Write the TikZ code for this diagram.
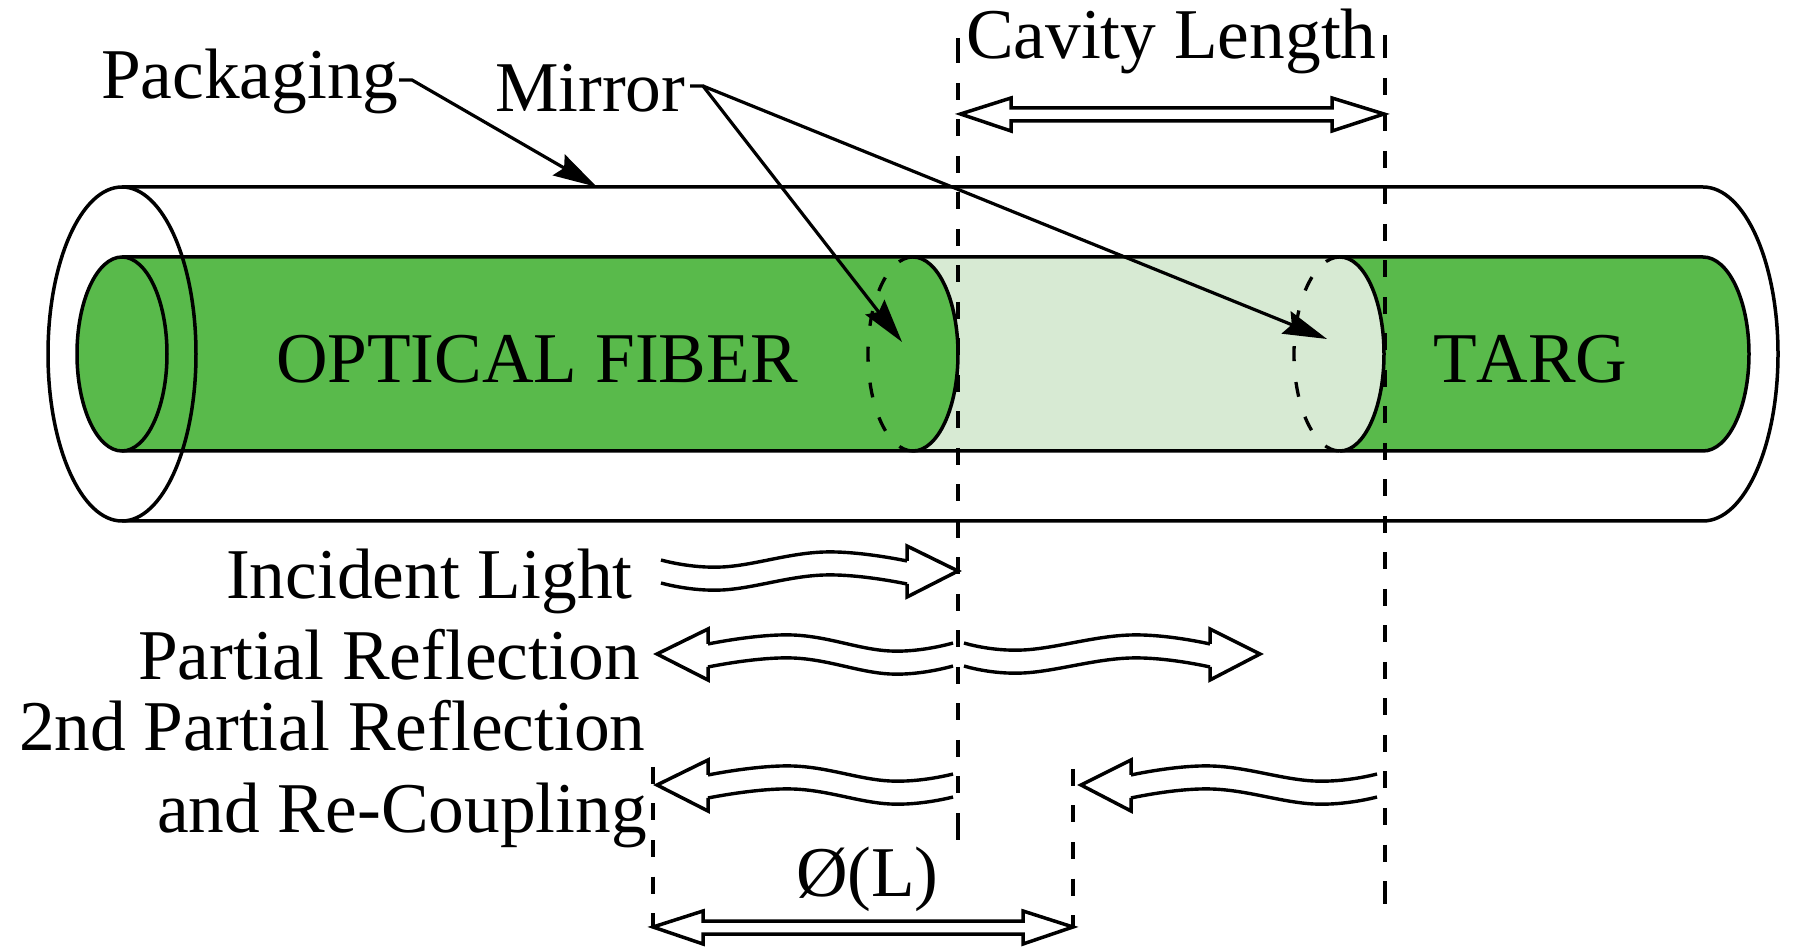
\documentclass[tikz,border=0pt]{standalone}
\usepackage{fontspec}
\setmainfont{Liberation Serif}
\usetikzlibrary{arrows.meta}
\definecolor{fibergreen}{RGB}{89,186,75}
\definecolor{cavitygreen}{RGB}{215,234,211}
\tikzset{
  ln/.style={line width=1.75pt,line join=miter},
  vdash/.style={line width=1.65pt,dash pattern=on 8.5pt off 9.75pt},
  mdash/.style={line width=1.65pt,dash pattern=on 7.5pt off 10.5pt},
  lbl/.style={anchor=base west,inner sep=0pt,outer sep=0pt,font=\fontsize{35.7}{40}\selectfont},
  ptr/.style={line width=1.6pt,-{Stealth[length=22pt,width=12pt,inset=3pt]}},
  wv/.style={line width=1.7pt,smooth,tension=0.7},
}
\begin{document}
\begin{tikzpicture}[x=0.5pt,y=-0.5pt]
\useasboundingbox (0,0) rectangle (1811,951);
\fill[white] (0,0) rectangle (1811,951);
% fills
\fill[cavitygreen] (913,257) -- (1340,257) arc[start angle=-90,end angle=90,x radius=44,y radius=97] -- (913,451) -- cycle;
\fill[fibergreen] (122,257) -- (913,257) arc[start angle=-90,end angle=90,x radius=45,y radius=97] -- (122,451) arc[start angle=90,end angle=270,x radius=45,y radius=97] -- cycle;
\fill[fibergreen] (1340,257) -- (1703,257) arc[start angle=-90,end angle=90,x radius=46,y radius=97] -- (1340,451) arc[start angle=90,end angle=-90,x radius=44,y radius=97] -- cycle;
% fibre outline
\draw[ln] (122,257) -- (1703,257) arc[start angle=-90,end angle=90,x radius=46,y radius=97] -- (122,451);
\draw[ln] (122,354) ellipse[x radius=45,y radius=97];
\draw[ln] (913,257) arc[start angle=-90,end angle=90,x radius=45,y radius=97];
\draw[ln] (1340,257) arc[start angle=-90,end angle=90,x radius=44,y radius=97];
\draw[mdash] (913,257) arc[start angle=-90,end angle=-270,x radius=45,y radius=97];
\draw[mdash] (1340,257) arc[start angle=-90,end angle=-270,x radius=46,y radius=97];
% packaging tube
\draw[ln] (122,187) -- (1703,187) arc[start angle=-90,end angle=90,x radius=75,y radius=167] -- (122,521);
\draw[ln] (122,354) ellipse[x radius=74,y radius=167];
% vertical dashed guides
\coordinate (la) at (958,38); \coordinate (lb) at (958,63); \coordinate (lc) at (958,83); \coordinate (ld) at (958,806);
\coordinate (le) at (958,813); \coordinate (lf) at (958,840);
\coordinate (ra) at (1385,35); \coordinate (rb) at (1385,58); \coordinate (rc) at (1385,78); \coordinate (rd) at (1385,870);
\coordinate (re) at (1385,881); \coordinate (rf) at (1385,904);
\coordinate (pa) at (653,767); \coordinate (pb) at (653,927);
\coordinate (qa) at (1073,769); \coordinate (qb) at (1073,927);
\draw[line width=1.65pt] (la) -- (lb) (ra) -- (rb) (le) -- (lf) (re) -- (rf);
\draw[vdash] (lc) -- (ld);
\draw[vdash] (rc) -- (rd);
\draw[vdash] (pa) -- (pb);
\draw[vdash] (qa) -- (qb);
% labels
\node[lbl] (packaging) at (101,99) {Packaging};
\node[lbl] (mirror) at (495,112) {Mirror};
\node[lbl] (cavity) at (966,59) {Cavity Length};
\node[lbl] (fiber) at (276,383) {\addfontfeatures{Kerning=Off}OPTICAL FIBER};
\node[lbl] (targ) at (1433,383) {\addfontfeatures{Kerning=Off}TARG};
\node[lbl] (incident) at (226,599) {Incident Light};
\node[lbl] (partial) at (138,680) {Partial Reflection};
\node[lbl] (second) at (19,751) {2nd Partial Reflection};
\node[lbl] (recoupling) at (157,833) {and Re-Coupling};
\node[lbl] (phase) at (796,896) {Ø(L)};
% pointers
\coordinate (pk0) at (399,80); \coordinate (pk1) at (412,80); \coordinate (pkt) at (597,187);
\coordinate (mr0) at (690,86); \coordinate (mr1) at (703,86);
\coordinate (mrl) at (902,342); \coordinate (mrr) at (1327,339);
\draw[ptr] (pk0) -- (pk1) -- (pkt);
\draw[ptr] (mr0) -- (mr1) -- (mrl);
\draw[ptr] (mr1) -- (mrr);
% double straight arrows
\draw[ln] (1011,108) -- (1332,108) -- (1332,98) -- (1384,114) -- (1332,131) -- (1332,121) -- (1011,121) -- (1011,131) -- (960.5,114) -- (1011,98) -- cycle;
\draw[ln] (703,921) -- (1023,921) -- (1023,911) -- (1073,927) -- (1023,944) -- (1023,934) -- (703,934) -- (703,944) -- (653,927) -- (703,911) -- cycle;
% wavy arrows
\foreach \dy in {0,23}{
  \draw[wv] plot[smooth] coordinates {(661,560+\dy) (722,567+\dy) (824,552+\dy) (907,561+\dy)};
  \draw[wv] plot[smooth] coordinates {(708,644+\dy) (793,635+\dy) (890,651+\dy) (953,643+\dy)};
  \draw[wv] plot[smooth] coordinates {(964,643+\dy) (1023,650+\dy) (1130,635+\dy) (1210,644+\dy)};
  \draw[wv] plot[smooth] coordinates {(708,775+\dy) (793,766+\dy) (890,781+\dy) (953,774+\dy)};
  \draw[wv] plot[smooth] coordinates {(1131,775+\dy) (1212,766+\dy) (1314,781+\dy) (1377,774+\dy)};
}
\draw[ln] (907,561) -- (907,546) -- (958,571) -- (907,597) -- (907,584);
\draw[ln] (708,644) -- (708,629) -- (657,654) -- (708,680) -- (708,667);
\draw[ln] (1210,644) -- (1210,629) -- (1260,654) -- (1210,680) -- (1210,667);
\draw[ln] (708,775) -- (708,760) -- (657,785) -- (708,811) -- (708,798);
\draw[ln] (1131,775) -- (1131,760) -- (1081,785) -- (1131,811) -- (1131,798);
\end{tikzpicture}
\end{document}
